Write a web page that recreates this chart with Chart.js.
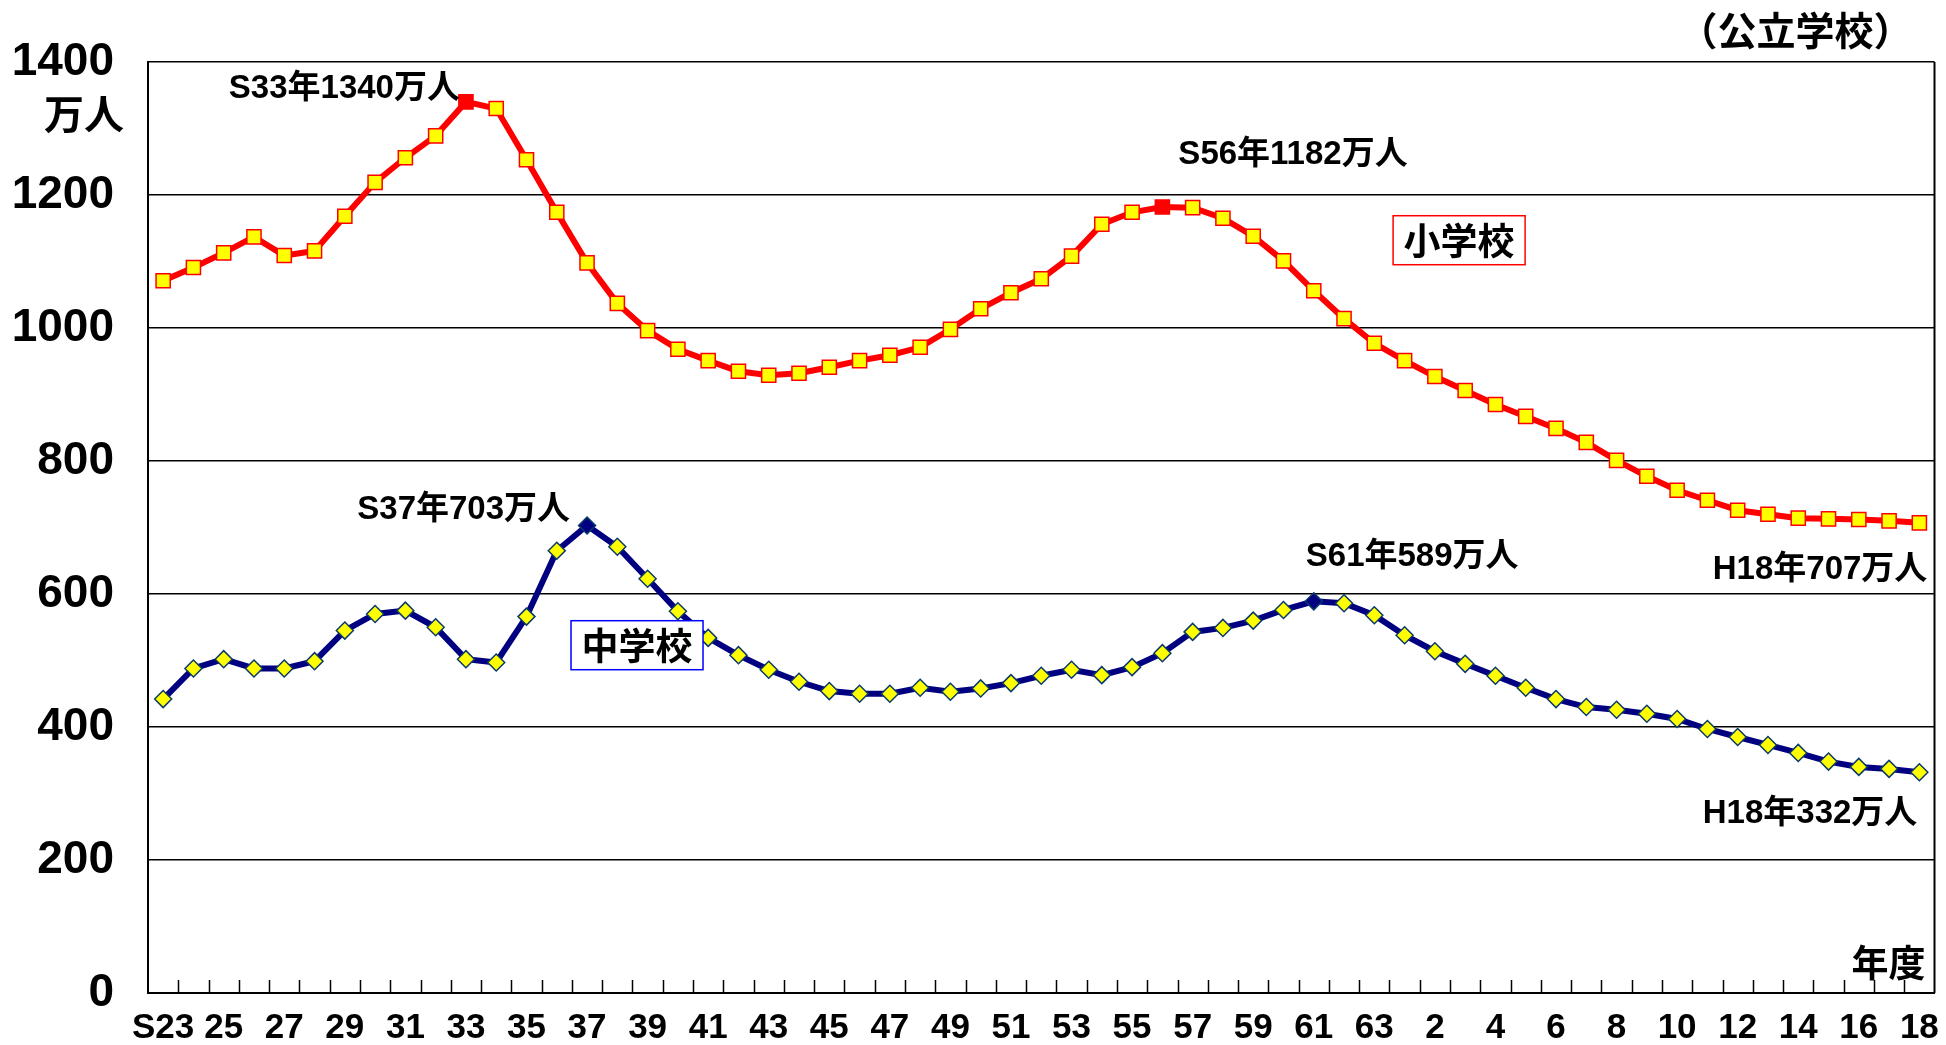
<!DOCTYPE html>
<html lang="ja">
<head>
  <meta charset="UTF-8" />
  <title>児童生徒数の推移（公立学校）</title>
  <script src="https://cdn.jsdelivr.net/npm/chart.js"></script>
  <style>
    html, body {
      margin: 0;
      overflow: hidden;
      background: #ffffff;
    }
    .wrap {
      width: 1946px;
      height: 1045px;
      position: relative;
      overflow: hidden;
    }
    .wrap canvas {
      display: block;
    }
  </style>
</head>
<body>
  <div class="wrap">
    <canvas id="pupilsChart"></canvas>
  </div>

  <script>
    // 年度 (S = 昭和, H = 平成)
    const years = [
      'S23','S24','S25','S26','S27','S28','S29','S30','S31','S32',
      'S33','S34','S35','S36','S37','S38','S39','S40','S41','S42',
      'S43','S44','S45','S46','S47','S48','S49','S50','S51','S52',
      'S53','S54','S55','S56','S57','S58','S59','S60','S61','S62',
      'S63','H1','H2','H3','H4','H5','H6','H7','H8','H9',
      'H10','H11','H12','H13','H14','H15','H16','H17','H18'
    ];
    const xTickLabels = [
      'S23','','25','','27','','29','','31','',
      '33','','35','','37','','39','','41','',
      '43','','45','','47','','49','','51','',
      '53','','55','','57','','59','','61','',
      '63','','2','','4','','6','','8','',
      '10','','12','','14','','16','','18'
    ];
    // 万人
    const elementary = [
      1071,1091,1113,1137,1109,1116,1168,1219,1256,1289,
      1340,1330,1253,1174,1098,1037,996,968,951,935,
      929,932,941,951,959,971,998,1029,1053,1074,
      1108,1156,1174,1182,1181,1165,1138,1101,1056,1014,
      977,951,927,906,885,867,849,828,801,777,
      756,741,726,720,714,713,712,710,707
    ];
    const juniorHigh = [
      442,488,502,488,488,499,545,570,575,550,
      502,497,566,665,703,671,623,574,534,508,
      486,468,454,450,450,459,453,458,466,477,
      486,478,490,511,543,549,560,576,589,586,
      568,538,514,495,477,459,442,430,426,420,
      412,397,385,373,361,348,340,337,332
    ];
    const yTicks = [0, 200, 400, 600, 800, 1000, 1200, 1400];
    const elementaryPeaks = [10, 33];
    const juniorPeaks = [14, 38];

    const LATIN = '"Liberation Sans", Arial, "Noto Sans CJK JP", sans-serif';
    const CJK = '"Noto Sans CJK JP", sans-serif';

    // callouts: dataset, index, text alignment, offset from the point
    const callouts = [
      { ds: 0, idx: 10, align: 'right', dx: -6, dy: -13 },
      { ds: 0, idx: 33, align: 'left', dx: 16, dy: -52 },
      { ds: 0, idx: 58, align: 'right', dx: 8, dy: 47 },
      { ds: 1, idx: 14, align: 'right', dx: -17, dy: -16 },
      { ds: 1, idx: 38, align: 'left', dx: -8, dy: -44 },
      { ds: 1, idx: 58, align: 'right', dx: -2, dy: 42 }
    ];
    const seriesBoxes = [
      { text: '小学校', x: 42.8, y: 1132, color: '#ff0000' },
      { text: '中学校', x: 15.65, y: 523, color: '#0000ff' }
    ];

    const overlay = {
      id: 'overlay',
      afterDraw(chart) {
        const { ctx, chartArea: a, scales: { x, y } } = chart;
        ctx.save();

        // frame on the right side
        ctx.strokeStyle = '#000';
        ctx.lineWidth = 2;
        ctx.beginPath();
        ctx.moveTo(a.right, a.top);
        ctx.lineTo(a.right, a.bottom);
        ctx.stroke();

        // small inward ticks between categories
        ctx.lineWidth = 1.5;
        ctx.beginPath();
        for (let i = 0; i < years.length - 1; i++) {
          const tx = Math.round((x.getPixelForValue(i) + x.getPixelForValue(i + 1)) / 2) + 0.5;
          ctx.moveTo(tx, a.bottom);
          ctx.lineTo(tx, a.bottom - 13);
        }
        ctx.stroke();

        // value callouts
        ctx.fillStyle = '#000';
        ctx.textBaseline = 'middle';
        ctx.font = 'bold 33px ' + LATIN;
        callouts.forEach(c => {
          const vals = c.ds === 0 ? elementary : juniorHigh;
          const px = x.getPixelForValue(c.idx);
          const py = y.getPixelForValue(vals[c.idx]);
          ctx.textAlign = c.align;
          ctx.fillText(years[c.idx] + '年' + vals[c.idx] + '万人', px + c.dx, py + c.dy);
        });

        // series name boxes
        ctx.font = 'bold 37px ' + CJK;
        ctx.textAlign = 'center';
        seriesBoxes.forEach(b => {
          const cx = x.getPixelForValue(b.x);
          const cy = y.getPixelForValue(b.y);
          const w = 132, h = 49;
          ctx.fillStyle = '#fff';
          ctx.fillRect(cx - w / 2, cy - h / 2, w, h);
          ctx.strokeStyle = b.color;
          ctx.lineWidth = 1.5;
          ctx.strokeRect(cx - w / 2, cy - h / 2, w, h);
          ctx.fillStyle = '#000';
          ctx.fillText(b.text, cx, cy + 1);
        });

        // unit, axis title, note
        ctx.textAlign = 'right';
        ctx.font = 'bold 40px ' + CJK;
        ctx.fillText('万人', a.left - 24, a.top + 52);
        ctx.font = 'bold 37px ' + CJK;
        ctx.fillText('年度', a.right - 9, a.bottom - 30);
        ctx.font = 'bold 39px ' + CJK;
        ctx.fillText('（公立学校）', a.right - 22, a.top - 32);

        ctx.restore();
      }
    };

    const ctx = document.getElementById('pupilsChart').getContext('2d');
    new Chart(ctx, {
      type: 'line',
      data: {
        labels: years,
        datasets: [
          {
            label: '小学校',
            data: elementary,
            borderColor: '#ff0000',
            borderWidth: 6,
            tension: 0,
            pointStyle: 'rect',
            pointRadius: 10,
            pointBorderWidth: 1.5,
            pointBorderColor: '#ff0000',
            pointBackgroundColor: c => elementaryPeaks.includes(c.dataIndex) ? '#ff0000' : '#ffff00'
          },
          {
            label: '中学校',
            data: juniorHigh,
            borderColor: '#000080',
            borderWidth: 6,
            tension: 0,
            pointStyle: 'rectRot',
            pointRadius: 8.5,
            pointBorderWidth: 1.5,
            pointBorderColor: '#0b3a6a',
            pointBackgroundColor: c => juniorPeaks.includes(c.dataIndex) ? '#000080' : '#ffff00'
          }
        ]
      },
      options: {
        responsive: true,
        maintainAspectRatio: false,
        animation: false,
        layout: { padding: { top: 62, right: 6, left: 0, bottom: 0 } },
        plugins: {
          legend: { display: false },
          tooltip: { enabled: false }
        },
        scales: {
          x: {
            offset: true,
            grid: {
              display: true,
              drawOnChartArea: false,
              drawTicks: true,
              tickLength: 14,
              tickColor: 'rgba(0,0,0,0)'
            },
            border: { color: '#000', width: 2 },
            ticks: {
              autoSkip: false,
              maxRotation: 0,
              minRotation: 0,
              padding: 0,
              color: '#000',
              font: { family: LATIN, size: 35, weight: 'bold' },
              callback: (v, i) => xTickLabels[i]
            },
            afterFit: s => {
              s.height = 52;
              s.paddingLeft = 0;
              s.paddingRight = 0;
            }
          },
          y: {
            min: yTicks[0],
            max: yTicks[yTicks.length - 1],
            afterBuildTicks: s => { s.ticks = yTicks.map(v => ({ value: v })); },
            grid: {
              color: '#000',
              lineWidth: 1.5,
              drawTicks: true,
              tickLength: 30,
              tickColor: 'rgba(0,0,0,0)'
            },
            border: { color: '#000', width: 2 },
            ticks: {
              padding: 4,
              color: '#000',
              font: { family: LATIN, size: 46, weight: 'bold' },
              callback: v => String(v)
            },
            afterFit: s => { s.width = 148; }
          }
        }
      },
      plugins: [overlay]
    });
  </script>
</body>
</html>
